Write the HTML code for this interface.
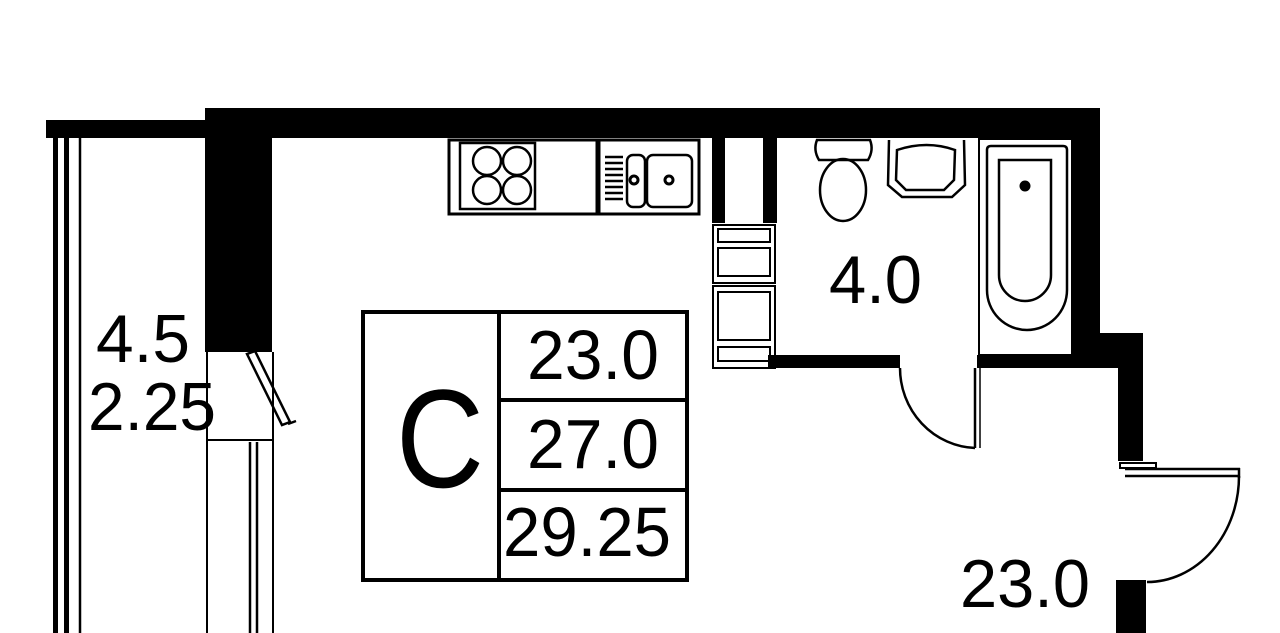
<!DOCTYPE html>
<html><head><meta charset="utf-8"><style>
html,body{margin:0;padding:0;background:#fff;width:1280px;height:633px;overflow:hidden}
svg{display:block}
text{font-family:"Liberation Sans",sans-serif;fill:#000}
</style></head><body>
<svg width="1280" height="633" viewBox="0 0 1280 633" xmlns="http://www.w3.org/2000/svg">
<g fill="#000">
<rect x="46" y="120" width="160" height="18"/>
<rect x="205" y="108" width="895" height="30"/>
<rect x="205" y="108" width="67" height="244"/>
<rect x="1072" y="108" width="28" height="250"/>
<rect x="1072" y="333" width="71" height="35"/>
<rect x="1118" y="333" width="25" height="128"/>
<rect x="1116" y="580" width="30" height="53"/>
<rect x="768" y="355" width="132" height="13"/>
<rect x="977" y="355" width="100" height="13"/>
<rect x="712" y="138" width="13" height="85"/>
<rect x="763" y="138" width="14" height="85"/>
<rect x="53" y="138" width="5" height="495"/>
<rect x="64" y="138" width="5" height="495"/>
</g>
<g fill="none" stroke="#000" stroke-width="3">
<line x1="80" y1="138" x2="80" y2="633" stroke-width="2.5"/>
<line x1="207" y1="352" x2="207" y2="633" stroke-width="2"/>
<line x1="273" y1="352" x2="273" y2="633" stroke-width="2"/>
<line x1="207" y1="440" x2="273" y2="440" stroke-width="2"/>
<line x1="250" y1="442" x2="250" y2="633" stroke-width="2.5"/>
<line x1="257" y1="442" x2="257" y2="633" stroke-width="2.5"/>
<path d="M247 354 L282 425 L290 422 L255 351 Z" stroke-width="2.5"/>
<path d="M288 424 L296 421" stroke-width="2.5"/>
<!-- kitchen -->
<rect x="449" y="140" width="148" height="74" stroke-width="3"/>
<rect x="460" y="143" width="75" height="66" stroke-width="2.5"/>
<circle cx="487" cy="161" r="14" stroke-width="2.5"/>
<circle cx="517" cy="161" r="14" stroke-width="2.5"/>
<circle cx="487" cy="190" r="14" stroke-width="2.5"/>
<circle cx="517" cy="190" r="14" stroke-width="2.5"/>
<rect x="599" y="140" width="100" height="74" stroke-width="3"/>
<rect x="627" y="155" width="18" height="52" rx="6" stroke-width="2.5"/>
<rect x="647" y="155" width="45" height="52" rx="6" stroke-width="2.5"/>
<circle cx="634" cy="180" r="4"/><circle cx="669" cy="180" r="4"/>
<path d="M605 157h18M605 163h18M605 169h18M605 175h18M605 181h18M605 187h18M605 193h18M605 199h18" stroke-width="2.5"/>
<!-- shaft boxes -->
<rect x="713" y="225" width="62" height="58" stroke-width="2"/>
<rect x="718" y="229" width="52" height="13" stroke-width="2"/>
<rect x="718" y="248" width="52" height="28" stroke-width="2"/>
<rect x="713" y="286" width="62" height="82" stroke-width="2"/>
<rect x="718" y="292" width="52" height="48" stroke-width="2"/>
<rect x="718" y="347" width="52" height="14" stroke-width="2"/>
<!-- toilet -->
<path d="M817 140 h53 q4 10 -2 20 h-49 q-6 -10 -2 -20z" stroke-width="2.5"/>
<ellipse cx="843" cy="190" rx="23" ry="31" stroke-width="2.5"/>
<!-- sink -->
<path d="M889 140 l-1 45 l14 12 h50 l13 -12 l-1 -45" stroke-width="2.5"/>
<path d="M897 150 q30 -10 58 0 l-1 30 l-10 10 h-38 l-10 -10z" stroke-width="2.5"/>
<!-- bath -->
<rect x="979" y="139" width="93" height="216" stroke-width="2"/>
<path d="M987 150 q0 -4 4 -4 h72 q4 0 4 4 v140 a40 40 0 0 1 -80 0z" stroke-width="2.5"/>
<path d="M999 160 h52 v115 a26 26 0 0 1 -52 0z" stroke-width="2.5"/>
<circle cx="1025" cy="186" r="4" fill="#000"/>
<!-- bathroom door -->
<line x1="975" y1="368" x2="975" y2="448" stroke-width="2.5"/>
<line x1="980" y1="368" x2="980" y2="448" stroke-width="1.5"/>
<path d="M900 368 A78 80 0 0 0 975 448" stroke-width="2.5"/>
<!-- entrance door -->
<path d="M1120 463 h36 v5 h-36z" stroke-width="2"/>
<line x1="1125" y1="469" x2="1240" y2="469" stroke-width="2.5"/>
<line x1="1125" y1="476" x2="1238" y2="476" stroke-width="2.5"/>
<line x1="1239" y1="468" x2="1239" y2="478" stroke-width="2.5"/>
<path d="M1239 476 A92 106 0 0 1 1147 582" stroke-width="2.5"/>
<!-- legend -->
<rect x="363" y="312" width="324" height="268" stroke-width="4"/>
<line x1="499" y1="312" x2="499" y2="580" stroke-width="4"/>
<line x1="499" y1="400" x2="687" y2="400" stroke-width="4"/>
<line x1="499" y1="490" x2="687" y2="490" stroke-width="4"/>
</g>
<text x="96" y="362" font-size="68" textLength="94" lengthAdjust="spacingAndGlyphs">4.5</text>
<text x="88" y="430" font-size="68" textLength="128" lengthAdjust="spacingAndGlyphs">2.25</text>
<text x="829" y="303" font-size="68" textLength="93" lengthAdjust="spacingAndGlyphs">4.0</text>
<text x="960" y="607" font-size="68" textLength="130" lengthAdjust="spacingAndGlyphs">23.0</text>
<text x="396" y="487" font-size="140" textLength="88" lengthAdjust="spacingAndGlyphs">C</text>
<text x="527" y="379" font-size="70" textLength="132" lengthAdjust="spacingAndGlyphs">23.0</text>
<text x="527" y="468" font-size="70" textLength="132" lengthAdjust="spacingAndGlyphs">27.0</text>
<text x="503" y="556" font-size="70" textLength="168" lengthAdjust="spacingAndGlyphs">29.25</text>
</svg>
</body></html>
